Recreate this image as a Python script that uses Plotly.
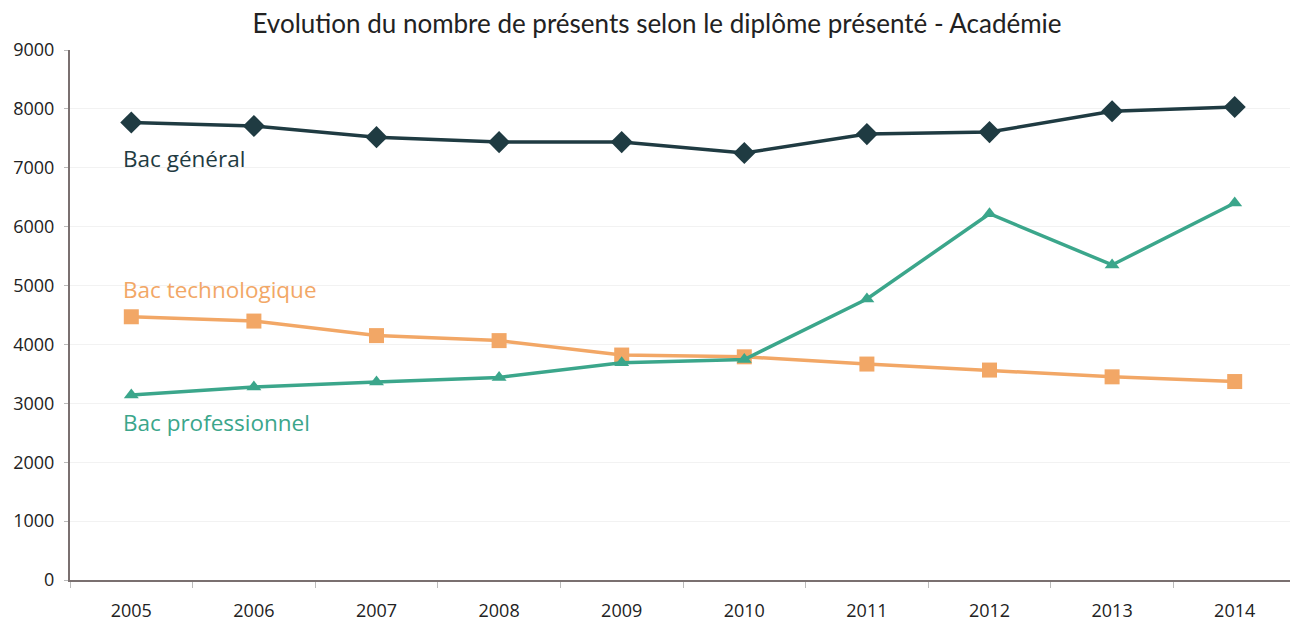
import plotly.graph_objects as go

years = ["2005", "2006", "2007", "2008", "2009", "2010", "2011", "2012", "2013", "2014"]
bac_general = [7770, 7710, 7520, 7436, 7436, 7250, 7572, 7606, 7960, 8031]
bac_techno = [4470, 4397, 4150, 4065, 3820, 3790, 3667, 3565, 3450, 3370]
bac_pro = [3141, 3277, 3362, 3440, 3690, 3745, 4771, 6220, 5350, 6401]

y_ticks = [0, 1000, 2000, 3000, 4000, 5000, 6000, 7000, 8000, 9000]

c_gen = "#1f3b42"
c_tech = "#f2a766"
c_pro = "#3ba68b"

fig = go.Figure()
fig.add_trace(go.Scatter(x=years, y=bac_general, mode="lines+markers", name="Bac général",
                         line=dict(color=c_gen, width=3.5),
                         marker=dict(symbol="diamond", size=17, color=c_gen)))
fig.add_trace(go.Scatter(x=years, y=bac_techno, mode="lines+markers", name="Bac technologique",
                         line=dict(color=c_tech, width=3.5),
                         marker=dict(symbol="square", size=15, color=c_tech)))
fig.add_trace(go.Scatter(x=years, y=bac_pro, mode="lines+markers", name="Bac professionnel",
                         line=dict(color=c_pro, width=3.5),
                         marker=dict(symbol="triangle-up", size=13, color=c_pro)))

labels = [("Bac général", 7160, c_gen), ("Bac technologique", 4930, c_tech), ("Bac professionnel", 2670, c_pro)]
for text, yv, col in labels:
    fig.add_annotation(x=0.043, xref="paper", y=yv, yref="y", text=text, showarrow=False,
                       xanchor="left", yanchor="middle", xshift=-2,
                       font=dict(family="Open Sans, sans-serif", size=22.5, color=col))

fig.update_layout(
    width=1298, height=623,
    margin=dict(l=62, r=10, t=42, b=51),
    paper_bgcolor="#ffffff",
    plot_bgcolor="#ffffff",
    showlegend=False,
    title=dict(text="Evolution du nombre de présents selon le diplôme présenté - Académie",
               x=0.5, xanchor="center", y=0.974, yanchor="middle",
               font=dict(family="Lato, sans-serif", size=26, color="#222222")),
    font=dict(family="Open Sans, sans-serif", size=18, color="#222222"),
)
fig.update_xaxes(type="category", tickson="boundaries", ticks="outside", ticklen=6,
                 tickcolor="#bbbbbb", showline=True, linecolor="#7a7070", linewidth=2,
                 showgrid=False, range=[-0.5, 9.5], ticklabelstandoff=13, automargin=False)
fig.update_yaxes(range=[0, 9000], tickvals=y_ticks, showline=True, linecolor="#7a7070",
                 linewidth=2, ticks="outside", ticklen=4, tickcolor="#bbbbbb",
                 ticklabelstandoff=6, automargin=False,
                 gridcolor="#f2f2f2", gridwidth=1, zeroline=False)

fig.write_html("out.html")
